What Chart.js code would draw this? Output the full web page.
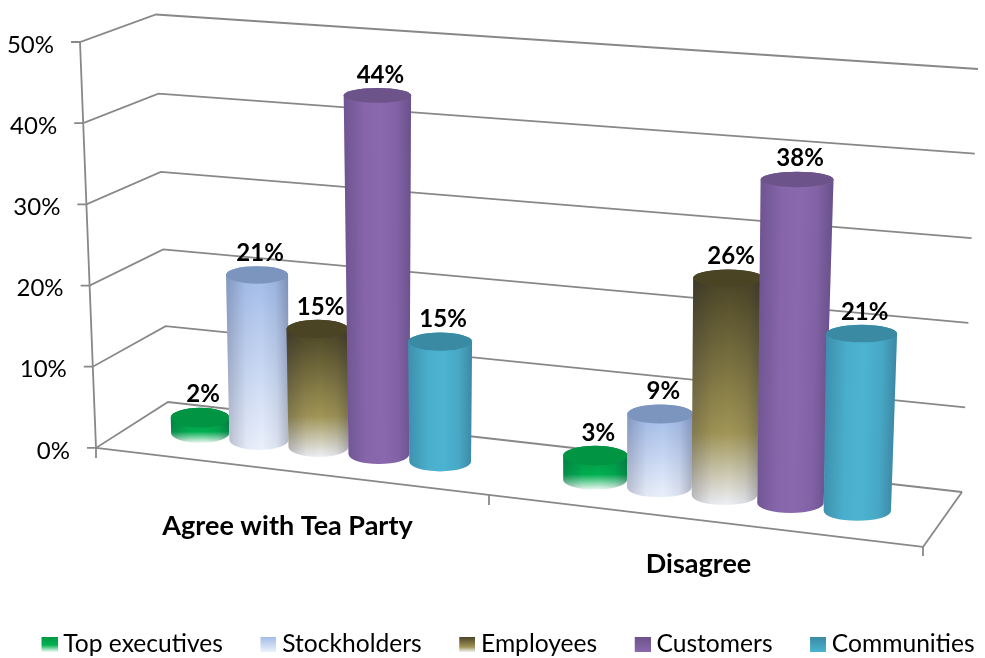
<!DOCTYPE html>
<html>
<head>
<meta charset="utf-8">
<title>Tea Party survey</title>
<style>
  html, body { margin: 0; padding: 0; background: #fff; }
  canvas { display: block; }
</style>
<script src="https://cdn.jsdelivr.net/npm/chart.js@4"></script>
</head>
<body>
<canvas id="surveyChart" width="985" height="658"></canvas>
<script>
const categories = ["Agree with Tea Party", "Disagree"];
const seriesNames = ["Top executives", "Stockholders", "Employees", "Customers", "Communities"];
const topExecutives = [2, 3];
const stockholders = [21, 9];
const employees = [15, 26];
const customers = [44, 38];
const communities = [15, 21];
const yTicks = [0, 10, 20, 30, 40, 50];

const seriesValues = [topExecutives, stockholders, employees, customers, communities];

// vertical body gradient and cap colour of each cylinder
const bodyStops = [
  [[0, "#009a46"], [0.55, "#00b050"], [1, "#f0fbf5"]],
  [[0, "#a3bde9"], [0.5, "#c6d6f2"], [1, "#ebf1fc"]],
  [[0, "#4a4425"], [0.68, "#a09555"], [1, "#eef0f6"]],
  [[0, "#8a68ae"], [1, "#8a68ae"]],
  [[0, "#4bb3d0"], [1, "#4bb3d0"]]
];
const capColors = ["#009443", "#7b95bf", "#4a4425", "#6c5389", "#3a8aa4"];

const FONT = "Lato, 'Open Sans', sans-serif";
const GRID = "#888888";

// wall corners of the 3D box
const frontX = v => 96 - 0.32 * v;
const backLeft = v => ({ x: 168 - 0.24 * v, y: 402 - 7.55 * v - 0.004 * v * v });
const backRight = v => ({ x: 962 + 0.32 * v, y: 492 - 8.46 * v });

function line(ctx, x1, y1, x2, y2) {
  ctx.beginPath();
  ctx.moveTo(x1, y1);
  ctx.lineTo(x2, y2);
  ctx.stroke();
}

// category units -> screen x, slightly wider towards the right
function screenX(xScale, px) {
  const c0 = xScale.getPixelForValue(0);
  const c1 = xScale.getPixelForValue(1);
  const u = (px - c0) / (c1 - c0);
  return 318.5 + 388 * u + 18 * u * u;
}

function cylinderGeometry(chart, bar) {
  const { x: xScale, y: yScale } = chart.scales;
  const v = yScale.getValueForPixel(bar.y);
  const X = screenX(xScale, bar.x);
  const wb = screenX(xScale, bar.x + bar.width / 2) - screenX(xScale, bar.x - bar.width / 2);
  const h = v * (7.45 + 0.00095 * X) * (1 + 0.001 * v);
  const baseY = yScale.bottom - 1 + 0.1185 * (X - 318);
  const lean = (X - 450) * 6e-5;
  return {
    X, baseY, h, lean, wb,
    topX: X + h * lean,
    topY: baseY - h,
    wt: wb * (1 + h * 0.0003),
    ryBase: 10,
    ryTop: 10 - 0.06 * v
  };
}

function drawCylinder(ctx, g, stops, capColor) {
  ctx.save();
  ctx.beginPath();
  ctx.moveTo(g.topX - g.wt / 2, g.topY);
  ctx.lineTo(g.X - g.wb / 2, g.baseY);
  ctx.ellipse(g.X, g.baseY, g.wb / 2, g.ryBase, 0, Math.PI, 0, true);
  ctx.lineTo(g.topX + g.wt / 2, g.topY);
  ctx.ellipse(g.topX, g.topY, g.wt / 2, g.ryTop, 0, 0, Math.PI, true);
  ctx.closePath();

  const body = ctx.createLinearGradient(0, g.topY, 0, g.baseY + g.ryBase);
  stops.forEach(s => body.addColorStop(s[0], s[1]));
  ctx.fillStyle = body;
  ctx.fill();

  // side shading follows the lean of the cylinder
  const midX = (g.X + g.topX) / 2;
  const midY = (g.baseY + g.topY) / 2;
  const w = (g.wb + g.wt) / 2;
  const shade = ctx.createLinearGradient(midX - w / 2, midY - g.lean * w / 2, midX + w / 2, midY + g.lean * w / 2);
  shade.addColorStop(0, "rgba(20,20,50,0.22)");
  shade.addColorStop(0.3, "rgba(20,20,50,0.03)");
  shade.addColorStop(0.55, "rgba(20,20,50,0)");
  shade.addColorStop(0.8, "rgba(20,20,50,0.07)");
  shade.addColorStop(1, "rgba(20,20,50,0.26)");
  ctx.fillStyle = shade;
  ctx.fill();

  ctx.beginPath();
  ctx.ellipse(g.topX, g.topY, g.wt / 2, g.ryTop, 0, 0, Math.PI * 2);
  ctx.fillStyle = capColor;
  ctx.fill();
  ctx.restore();
}

const walls = {
  id: "walls",
  beforeDatasetsDraw(chart) {
    const { ctx } = chart;
    const { y: yScale } = chart.scales;
    ctx.save();
    ctx.strokeStyle = GRID;
    ctx.lineWidth = 1.8;

    yTicks.forEach(v => {
      const py = yScale.getPixelForValue(v);
      const fx = frontX(v);
      const bl = backLeft(v);
      const br = backRight(v);
      ctx.beginPath();
      ctx.moveTo(fx - 9, py);
      ctx.lineTo(fx, py);
      ctx.lineTo(bl.x, bl.y);
      ctx.lineTo(br.x, br.y);
      ctx.stroke();
    });

    // front axis and floor outline
    const bottom = yScale.getPixelForValue(0);
    const top = yScale.getPixelForValue(50);
    line(ctx, frontX(50), top, frontX(0), bottom);
    const floorEnd = { x: 923, y: bottom + 99 };
    line(ctx, frontX(0), bottom, floorEnd.x, floorEnd.y);
    line(ctx, floorEnd.x, floorEnd.y, backRight(0).x, backRight(0).y);
    line(ctx, frontX(0), bottom, frontX(0), bottom + 10);
    line(ctx, 489, bottom + 47, 489, bottom + 57);
    line(ctx, floorEnd.x, floorEnd.y, floorEnd.x, floorEnd.y + 9);
    ctx.restore();

    // value axis labels sit along the slanted axis
    ctx.save();
    ctx.font = "24px " + FONT;
    ctx.fillStyle = "#000";
    ctx.textAlign = "right";
    ctx.textBaseline = "middle";
    yScale.ticks.forEach(t => {
      ctx.fillText(t.label, frontX(t.value) - 26, yScale.getPixelForValue(t.value) + 3);
    });
    ctx.restore();
  },
  afterDatasetsDraw(chart) {
    const { ctx } = chart;
    const geos = [];
    chart.data.datasets.forEach((ds, i) => {
      chart.getDatasetMeta(i).data.forEach((bar, j) => {
        const g = cylinderGeometry(chart, bar);
        drawCylinder(ctx, g, bodyStops[i], capColors[i]);
        geos.push({ g, text: ds.data[j] + "%" });
      });
    });

    ctx.save();
    ctx.font = "bold 24px " + FONT;
    ctx.fillStyle = "#000";
    ctx.textAlign = "center";
    ctx.textBaseline = "middle";
    geos.forEach(({ g, text }) => {
      ctx.fillText(text, g.topX + 3, g.topY - g.ryTop - 13);
    });

    // category labels run along the sloping floor
    const { x: xScale, y: yScale } = chart.scales;
    ctx.font = "bold 27px " + FONT;
    categories.forEach((name, i) => {
      const cx = screenX(xScale, xScale.getPixelForValue(i)) - 31 + 5 * i;
      ctx.fillText(name, cx, yScale.bottom + 78 + 0.0945 * (cx - 288));
    });
    ctx.restore();
  }
};

// the swatch sits at the right of a wider transparent sprite, close to its text
function legendSwatch(stops) {
  const c = document.createElement("canvas");
  c.width = 54;
  c.height = 15;
  const g = c.getContext("2d");
  const grad = g.createLinearGradient(0, 0, 0, 15);
  stops.forEach(s => grad.addColorStop(s[0], s[1]));
  g.fillStyle = grad;
  g.fillRect(38, 0, 16, 15);
  return c;
}

new Chart(document.getElementById("surveyChart"), {
  type: "bar",
  data: {
    labels: categories,
    datasets: seriesNames.map((name, i) => ({
      label: name,
      data: seriesValues[i],
      backgroundColor: "transparent",
      categoryPercentage: 0.773,
      barPercentage: 1
    }))
  },
  plugins: [walls],
  options: {
    responsive: false,
    animation: false,
    events: [],
    layout: { padding: { left: 4, top: 42, right: 0, bottom: -8.5 } },
    scales: {
      x: {
        ticks: { display: false },
        grid: { display: false },
        border: { display: false },
        afterFit(scale) { scale.height = 178; }
      },
      y: {
        min: 0,
        max: 50,
        ticks: { stepSize: 10, display: false, callback: v => v + "%" },
        grid: { display: false },
        border: { display: false },
        afterFit(scale) { scale.width = 0; }
      }
    },
    plugins: {
      tooltip: { enabled: false },
      legend: {
        position: "bottom",
        align: "start",
        labels: {
          color: "#000",
          font: { family: FONT, size: 24.6 },
          usePointStyle: true,
          pointStyleWidth: 41,
          boxHeight: 15,
          padding: 6,
          generateLabels(chart) {
            return Chart.defaults.plugins.legend.labels.generateLabels(chart).map((item, i) => {
              item.pointStyle = legendSwatch(bodyStops[i].length > 2 ? bodyStops[i] : [[0, capColors[i]], [1, bodyStops[i][1][1]]]);
              return item;
            });
          }
        }
      }
    }
  }
});
</script>
</body>
</html>
